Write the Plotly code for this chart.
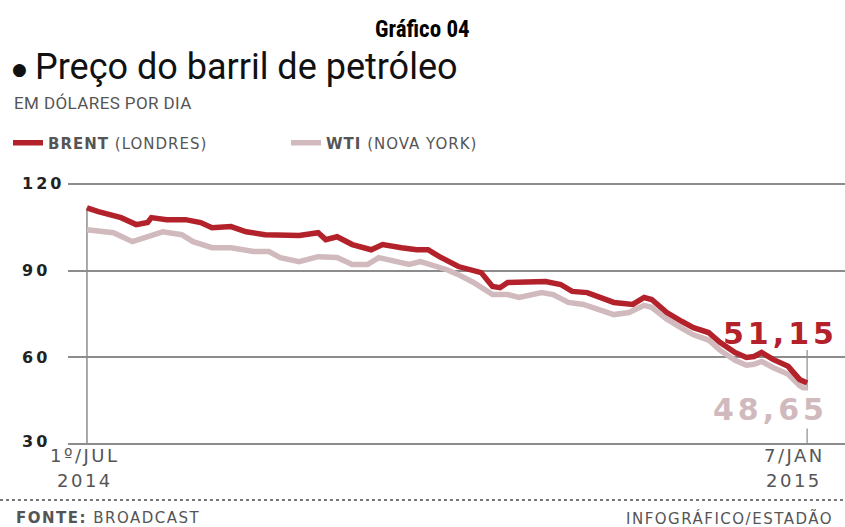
import plotly.graph_objects as go

# Brent and WTI closing prices (US$ per barrel), 1 Jul 2014 - 7 Jan 2015
brent_dates = [
    "2014-07-01", "2014-07-04", "2014-07-10", "2014-07-14", "2014-07-17", "2014-07-18",
    "2014-07-22", "2014-07-27", "2014-07-31", "2014-08-03", "2014-08-08", "2014-08-12",
    "2014-08-17", "2014-08-21", "2014-08-26", "2014-08-31", "2014-09-02", "2014-09-05",
    "2014-09-09", "2014-09-14", "2014-09-17", "2014-09-22", "2014-09-26", "2014-09-29",
    "2014-10-02", "2014-10-07", "2014-10-13", "2014-10-16", "2014-10-18", "2014-10-20",
    "2014-10-25", "2014-10-30", "2014-11-03", "2014-11-06", "2014-11-10", "2014-11-13",
    "2014-11-17", "2014-11-22", "2014-11-25", "2014-11-27", "2014-12-01", "2014-12-05",
    "2014-12-08", "2014-12-12", "2014-12-15", "2014-12-19", "2014-12-22", "2014-12-24",
    "2014-12-26", "2014-12-29", "2015-01-02", "2015-01-05", "2015-01-07",
]
brent_values = [
    111.7, 110.4, 108.3, 105.9, 106.6, 108.3,
    107.6, 107.6, 106.6, 104.8, 105.2, 103.4,
    102.4, 102.4, 102.1, 103.1, 100.7, 101.7,
    99.0, 97.2, 99.0, 97.9, 97.2, 97.2,
    94.8, 91.4, 89.3, 84.5, 84.1, 85.9,
    85.9, 86.2, 85.2, 82.8, 82.4, 81.0,
    79.0, 78.3, 80.7, 80.0, 75.5, 72.4,
    70.3, 68.6, 65.2, 61.7, 60.0, 60.3,
    61.7, 59.3, 56.9, 52.4, 51.15,
]

wti_dates = [
    "2014-07-01", "2014-07-08", "2014-07-13", "2014-07-17", "2014-07-21", "2014-07-26",
    "2014-07-29", "2014-08-03", "2014-08-08", "2014-08-14", "2014-08-18", "2014-08-21",
    "2014-08-26", "2014-08-31", "2014-09-05", "2014-09-09", "2014-09-13", "2014-09-16",
    "2014-09-20", "2014-09-24", "2014-09-27", "2014-09-30", "2014-10-04", "2014-10-07",
    "2014-10-11", "2014-10-16", "2014-10-20", "2014-10-23", "2014-10-29", "2014-11-01",
    "2014-11-05", "2014-11-09", "2014-11-13", "2014-11-17", "2014-11-21", "2014-11-25",
    "2014-11-27", "2014-12-01", "2014-12-05", "2014-12-08", "2014-12-12", "2014-12-15",
    "2014-12-19", "2014-12-22", "2014-12-24", "2014-12-26", "2014-12-29", "2015-01-02",
    "2015-01-05", "2015-01-07",
]
wti_values = [
    104.1, 103.1, 100.0, 101.7, 103.4, 102.4,
    100.0, 97.9, 97.9, 96.6, 96.6, 94.5,
    93.1, 94.8, 94.5, 92.1, 92.1, 94.5,
    93.1, 92.1, 93.1, 92.1, 90.3, 88.6,
    85.9, 81.7, 81.7, 80.7, 82.4, 81.7,
    79.0, 78.3, 76.6, 74.8, 75.5, 78.0,
    77.3, 73.2, 70.0, 67.8, 66.0, 62.5,
    59.0, 57.3, 57.6, 58.6, 56.5, 54.2,
    50.3, 48.65,
]

y_ticks = [30, 60, 90, 120]
start_label = ["1º/JUL", "2014"]
end_label = ["7/JAN", "2015"]

BRENT_RED = "#b3222b"
WTI_PINK = "#d1babd"
GRID = "#8c8c8c"
INK = "#222222"
GREY_TXT = "#555555"
WIDE = "DejaVu Sans"

W, H = 845, 527
ML, MR, MT, MB = 68, 0, 178, 77
PW, PH = W - ML - MR, H - MT - MB


def px(x):
    return (x - ML) / PW


def py(y):
    return (H - MB - y) / PH


def spaced(text, sp):
    return f'<span style="letter-spacing:{sp}px">{text}</span>'


def br_num(v):
    return f"{v:.2f}".replace(".", ",")


fig = go.Figure()

fig.add_trace(go.Scatter(
    x=wti_dates, y=wti_values, mode="lines",
    name=spaced("<b>WTI</b> (NOVA YORK)", 1),
    line=dict(color=WTI_PINK, width=5.5, shape="linear"),
))
fig.add_trace(go.Scatter(
    x=brent_dates, y=brent_values, mode="lines",
    name=spaced("<b>BRENT</b> (LONDRES)", 1),
    line=dict(color=BRENT_RED, width=5.5, shape="linear"),
))

shapes = [
    # drop lines at the first and last dates
    dict(type="line", xref="x", yref="y", x0=brent_dates[0], x1=brent_dates[0],
         y0=y_ticks[0], y1=brent_values[0], line=dict(color=GRID, width=1.5), layer="below"),
    dict(type="line", xref="x", yref="paper", x0=brent_dates[-1], x1=brent_dates[-1],
         y0=py(444), y1=py(350), line=dict(color=GRID, width=1.2), layer="below"),
    # dotted footer rule
    dict(type="line", xref="paper", yref="paper", x0=px(0), x1=px(W), y0=py(500), y1=py(500),
         line=dict(color="#777777", width=2, dash="dot")),
]

annotations = [
    dict(text="<b>Gráfico 04</b>", x=px(422), y=py(30), xref="paper", yref="paper",
         xanchor="center", yanchor="middle", showarrow=False,
         font=dict(family="Liberation Sans Narrow, Roboto Condensed, Roboto", size=23, color="#000000")),
    dict(text="●", x=px(19), y=py(69), xref="paper", yref="paper",
         xanchor="center", yanchor="middle", showarrow=False,
         font=dict(family="DejaVu Sans", size=17, color="#111111")),
    dict(text="Preço do barril de petróleo", x=px(33), y=py(67),
         xref="paper", yref="paper", xanchor="left", yanchor="middle", showarrow=False,
         font=dict(family="Roboto", size=36, color="#111111")),
    dict(text=spaced("EM DÓLARES POR DIA", 0.4), x=px(12), y=py(103), xref="paper", yref="paper",
         xanchor="left", yanchor="middle", showarrow=False,
         font=dict(family="Roboto", size=17, color=GREY_TXT)),
    dict(text="<b>" + spaced(br_num(brent_values[-1]), 4) + "</b>", x=brent_dates[-1], y=brent_values[-1],
         xref="x", yref="y", xanchor="center", yanchor="middle", xshift=-27, yshift=50,
         showarrow=False, font=dict(family=WIDE, size=30, color=BRENT_RED)),
    dict(text="<b>" + spaced(br_num(wti_values[-1]), 4) + "</b>", x=wti_dates[-1], y=wti_values[-1],
         xref="x", yref="y", xanchor="center", yanchor="middle", xshift=-37, yshift=-19,
         showarrow=False, bgcolor="#ffffff", font=dict(family=WIDE, size=30, color=WTI_PINK)),
    dict(text=spaced("<b>FONTE:</b> BROADCAST", 1.5), x=px(14), y=py(518), xref="paper", yref="paper",
         xanchor="left", yanchor="middle", showarrow=False,
         font=dict(family=WIDE, size=15, color=GREY_TXT)),
    dict(text=spaced("INFOGRÁFICO/ESTADÃO", 1.5), x=px(835), y=py(518), xref="paper", yref="paper",
         xanchor="right", yanchor="middle", showarrow=False,
         font=dict(family=WIDE, size=15, color=GREY_TXT)),
]

# left-aligned value labels for the horizontal grid
for t in y_ticks:
    annotations.append(dict(
        text="<b>" + spaced(str(t), 3) + "</b>", x=px(20), y=t, xref="paper", yref="y",
        xanchor="left", yanchor="middle", showarrow=False, yshift=(3 if t == y_ticks[0] else 0),
        font=dict(family=WIDE, size=16, color=INK),
    ))

# two-line date labels under the first and last points
for lines, date, shift in ((start_label, brent_dates[0], -2), (end_label, brent_dates[-1], -13)):
    for text, ypix in zip(lines, (455, 480)):
        annotations.append(dict(
            text=spaced(text, 2.5), x=date, y=py(ypix), xref="x", yref="paper",
            xanchor="center", yanchor="middle", xshift=shift, showarrow=False,
            font=dict(family=WIDE, size=18, color=GREY_TXT),
        ))

fig.update_layout(
    width=W, height=H, autosize=False,
    margin=dict(l=ML, r=MR, t=MT, b=MB, pad=0),
    paper_bgcolor="#ffffff", plot_bgcolor="#ffffff",
    showlegend=True,
    legend=dict(
        orientation="h", x=px(8), y=py(143), xanchor="left", yanchor="middle",
        traceorder="reversed", entrywidth=233, entrywidthmode="pixels",
        itemwidth=30, bgcolor="rgba(0,0,0,0)",
        font=dict(family=WIDE, size=15, color=GREY_TXT),
    ),
    xaxis=dict(
        type="date", range=["2014-06-26", "2015-01-17"],
        showgrid=False, zeroline=False, showline=False, showticklabels=False, ticks="",
    ),
    yaxis=dict(
        range=[28, 122], tickvals=y_ticks, showgrid=True, gridcolor=GRID, gridwidth=1.5,
        zeroline=False, showline=False, showticklabels=False, ticks="",
    ),
    shapes=shapes,
    annotations=annotations,
    hovermode=False,
)

fig.write_html("out.html")
